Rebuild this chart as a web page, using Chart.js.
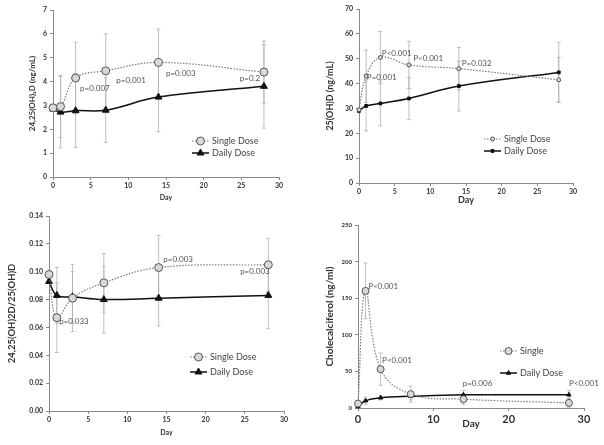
<!DOCTYPE html>
<html>
<head>
<meta charset="utf-8">
<script src="https://cdn.jsdelivr.net/npm/chart.js@4.4.0/dist/chart.umd.min.js"></script>
<style>
    body { margin: 0; background: #fff; }
    #wrap { position: relative; width: 604px; height: 445px; }
    .panel { position: absolute; }
</style>
</head>
<body>
<div id="wrap">
    <div class="panel" style="left:0;top:0;width:300px;height:205px"><canvas id="c1"></canvas></div>
    <div class="panel" style="left:300px;top:0;width:304px;height:205px"><canvas id="c2"></canvas></div>
    <div class="panel" style="left:0;top:205px;width:300px;height:240px"><canvas id="c3"></canvas></div>
    <div class="panel" style="left:300px;top:205px;width:304px;height:240px"><canvas id="c4"></canvas></div>
</div>
<script>
// sampling days (shared by all panels)
var days = [0, 1, 3, 7, 14, 28];

// panel 1: 24,25(OH)2D
var p1Single   = [2.9, 2.95, 4.15, 4.45, 4.8, 4.4];
var p1SingleSd = [0, 1.3, 1.5, 1.55, 1.4, 1.3];
var p1Daily    = [2.85, 2.72, 2.78, 2.8, 3.35, 3.8];
var p1DailySd  = [0, 1.5, 1.55, 1.35, 1.45, 1.75];
var p1Notes = [
    { x: 3.6, y: 3.72, text: "p=0.007" },
    { x: 8.4, y: 4.06, text: "p=0.001" },
    { x: 15.0, y: 4.36, text: "p=0.003" },
    { x: 24.8, y: 4.15, text: "p=0.2" }
];

// panel 2: 25(OH)D
var p2Single   = [29.5, 43, 50.5, 47.5, 46, 41.5];
var p2SingleSd = [0, 10.5, 10.5, 9.5, 8.5, 9];
var p2Daily    = [29, 31, 32, 34, 39, 44.5];
var p2DailySd  = [0, 10, 9, 8.5, 10, 12];
var p2Notes = [
    { x: 1.1, y: 42.6, text: "P=0.001" },
    { x: 3.2, y: 52.3, text: "P<0.001" },
    { x: 7.6, y: 50.3, text: "P<0.001" },
    { x: 14.4, y: 48.3, text: "P=0.032" }
];

// panel 3: ratio 24,25(OH)2D / 25(OH)D
var p3Single   = [0.098, 0.067, 0.081, 0.092, 0.103, 0.105];
var p3SingleSd = [0, 0.025, 0.024, 0.021, 0.023, 0.019];
var p3Daily    = [0.093, 0.083, 0.082, 0.080, 0.081, 0.083];
var p3DailySd  = [0, 0.02, 0.018, 0.024, 0.02, 0.024];
var p3Notes = [
    { x: 1.3, y: 0.064, text: "p=0.033" },
    { x: 14.6, y: 0.1086, text: "p=0.003" },
    { x: 24.4, y: 0.100, text: "p=0.003" }
];

// panel 4: cholecalciferol
var p4Single   = [6, 160, 53, 19, 12, 7];
var p4SingleSd = [0, 38, 22, 11, 7, 6];
var p4Daily    = [2, 10, 14, 16, 18, 18];
var p4DailySd  = [0, 5, 3, 5, 6, 6];
var p4Notes = [
    { x: 1.35, y: 166, text: "P<0.001" },
    { x: 3.2, y: 65, text: "P<0.001" },
    { x: 13.9, y: 34, text: "p=0.006" },
    { x: 28.0, y: 34, text: "P<0.001" }
];

var FONT = "Lato, 'Open Sans', sans-serif";
var AXIS = "#8a8a8a";

// error bars, drawn under the lines
var errorBars = {
    id: "errorBars",
    beforeDatasetsDraw: function (chart) {
        var ctx = chart.ctx, xs = chart.scales.x, ys = chart.scales.y;
        ctx.save();
        ctx.strokeStyle = "#b0b0b0";
        ctx.lineWidth = 0.8;
        chart.data.datasets.forEach(function (ds) {
            if (!ds.errors) return;
            ds.data.forEach(function (pt, i) {
                var sd = ds.errors[i];
                if (!sd) return;
                var x = xs.getPixelForValue(pt.x);
                var top = ys.getPixelForValue(pt.y + sd);
                var bot = ys.getPixelForValue(Math.max(pt.y - sd, ys.min));
                ctx.beginPath();
                ctx.moveTo(x, top); ctx.lineTo(x, bot);
                ctx.moveTo(x - 2, top); ctx.lineTo(x + 2, top);
                ctx.moveTo(x - 2, bot); ctx.lineTo(x + 2, bot);
                ctx.stroke();
            });
        });
        ctx.restore();
    }
};

// p-value labels and the inset legend
var extras = {
    id: "extras",
    afterDraw: function (chart, args, opts) {
        var ctx = chart.ctx, xs = chart.scales.x, ys = chart.scales.y, area = chart.chartArea;
        ctx.save();
        ctx.font = opts.noteSize + "px " + FONT;
        ctx.fillStyle = "#555";
        ctx.textBaseline = "middle";
        ctx.textAlign = "left";
        (opts.notes || []).forEach(function (n) {
            ctx.fillText(n.text, xs.getPixelForValue(n.x), ys.getPixelForValue(n.y));
        });

        // legend
        var lx = area.left + opts.legendX, ly = area.top + opts.legendY;
        ctx.font = opts.legendSize + "px " + FONT;
        chart.data.datasets.forEach(function (ds, i) {
            var y = ly + i * opts.legendGap;
            ctx.strokeStyle = ds.borderColor;
            ctx.lineWidth = ds.borderWidth;
            ctx.setLineDash(ds.borderDash || []);
            ctx.beginPath();
            ctx.moveTo(lx, y); ctx.lineTo(lx + 17, y);
            ctx.stroke();
            ctx.setLineDash([]);
            ctx.fillStyle = ds.pointBackgroundColor;
            ctx.strokeStyle = ds.pointBorderColor;
            ctx.lineWidth = 1;
            Chart.helpers.drawPoint(ctx, { pointStyle: ds.pointStyle, radius: ds.pointRadius, borderWidth: 1, rotation: 0 }, lx + 8.5, y);
            ctx.fillStyle = "#444";
            ctx.fillText(ds.label, lx + 20, y);
        });
        ctx.restore();
    }
};

function toPoints(ys) {
    return days.map(function (d, i) { return { x: d, y: ys[i] }; });
}

function makeChart(id, o) {
    var single = {
        label: o.singleLabel,
        data: toPoints(o.single),
        errors: o.singleSd,
        borderColor: "#7a7a7a",
        borderWidth: 1.2,
        borderDash: [1.5, 1.5],
        tension: 0.4,
        clip: false,
        pointStyle: "circle",
        pointRadius: o.singleR,
        pointBackgroundColor: "#d8d8d8",
        pointBorderColor: "#555",
        pointBorderWidth: 1
    };
    var daily = {
        label: "Daily Dose",
        data: toPoints(o.daily),
        errors: o.dailySd,
        borderColor: "#111",
        borderWidth: 1.5,
        tension: 0.4,
        clip: false,
        pointStyle: o.dailyStyle,
        pointRadius: o.dailyR,
        pointBackgroundColor: "#111",
        pointBorderColor: "#111",
        pointBorderWidth: 1
    };
    var yw = o.yWidth, xh = o.xHeight;
    return new Chart(document.getElementById(id), {
        type: "line",
        data: { datasets: [single, daily] },
        plugins: [errorBars, extras],
        options: {
            responsive: true,
            maintainAspectRatio: false,
            animation: false,
            layout: { padding: o.pad },
            scales: {
                x: {
                    type: "linear",
                    min: 0,
                    max: 30,
                    afterFit: function (s) { s.height = xh; },
                    ticks: { stepSize: o.xStep, color: "#333", padding: 2, font: { family: FONT, size: o.xTickSize, weight: "bold" } },
                    grid: { drawOnChartArea: false, tickLength: 3, color: AXIS },
                    border: { color: AXIS },
                    title: { display: true, text: "Day", color: "#333", padding: { top: 0, bottom: o.dayPad }, font: { family: FONT, size: o.daySize, weight: "bold" } }
                },
                y: {
                    min: 0,
                    max: o.yMax,
                    afterFit: function (s) { s.width = yw; },
                    ticks: { stepSize: o.yStep, color: "#333", padding: 3, font: { family: FONT, size: o.yTickSize, weight: "bold" },
                             callback: o.yFormat },
                    grid: { drawOnChartArea: false, tickLength: 3, color: AXIS },
                    border: { color: AXIS },
                    title: { display: true, text: o.yTitle, color: "#333", padding: { top: 4, bottom: 2 }, font: { family: FONT, size: o.yTitleSize, weight: "bold" } }
                }
            },
            plugins: {
                legend: { display: false },
                tooltip: { enabled: false },
                extras: o.extras
            }
        }
    });
}

makeChart("c1", {
    single: p1Single, singleSd: p1SingleSd, daily: p1Daily, dailySd: p1DailySd,
    singleLabel: "Single Dose", singleR: 4, dailyStyle: "triangle", dailyR: 4,
    yMax: 7, yStep: 1, yTitle: "24,25(OH)\u2082D (ng/mL)", yTitleSize: 8, yTickSize: 7,
    xStep: 5, xTickSize: 7, daySize: 7, dayPad: 3,
    yWidth: 29, xHeight: 28, pad: { left: 24, top: 10, right: 21, bottom: 0 },
    extras: { notes: p1Notes, noteSize: 8, legendSize: 9, legendX: 139, legendY: 131, legendGap: 12 }
});

makeChart("c2", {
    single: p2Single, singleSd: p2SingleSd, daily: p2Daily, dailySd: p2DailySd,
    singleLabel: "Single Dose", singleR: 2, dailyStyle: "rect", dailyR: 2,
    yMax: 70, yStep: 10, yTitle: "25(OH)D (ng/mL)", yTitleSize: 9, yTickSize: 7,
    xStep: 5, xTickSize: 7, daySize: 9, dayPad: 0,
    yWidth: 38, xHeight: 22, pad: { left: 21, top: 9, right: 31, bottom: 0 },
    extras: { notes: p2Notes, noteSize: 8, legendSize: 9, legendX: 125, legendY: 130, legendGap: 12 }
});

makeChart("c3", {
    single: p3Single, singleSd: p3SingleSd, daily: p3Daily, dailySd: p3DailySd,
    singleLabel: "Single Dose", singleR: 4, dailyStyle: "triangle", dailyR: 4,
    yMax: 0.14, yStep: 0.02, yTitle: "24,25(OH)2D/25(OH)D", yTitleSize: 9.5, yTickSize: 7,
    yFormat: function (v) { return v.toFixed(2); },
    xStep: 5, xTickSize: 7, daySize: 7, dayPad: 8,
    yWidth: 47, xHeight: 34, pad: { left: 2, top: 11, right: 16, bottom: 0 },
    extras: { notes: p3Notes, noteSize: 8, legendSize: 9, legendX: 141, legendY: 141, legendGap: 15 }
});

makeChart("c4", {
    single: p4Single, singleSd: p4SingleSd, daily: p4Daily, dailySd: p4DailySd,
    singleLabel: "Single", singleR: 3.5, dailyStyle: "triangle", dailyR: 2.5,
    yMax: 250, yStep: 50, yTitle: "Cholecalciferol (ng/ml)", yTitleSize: 10, yTickSize: 6,
    xStep: 10, xTickSize: 11, daySize: 10, dayPad: 15,
    yWidth: 38, xHeight: 37, pad: { left: 20, top: 20, right: 20, bottom: 0 },
    extras: { notes: p4Notes, noteSize: 8, legendSize: 9, legendX: 142, legendY: 126, legendGap: 22 }
});
</script>
</body>
</html>
